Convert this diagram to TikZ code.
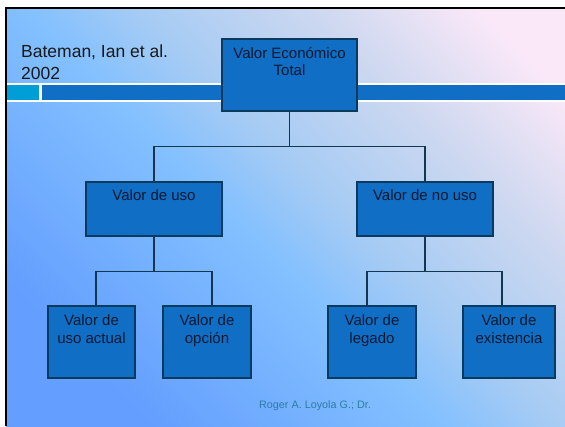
\documentclass[tikz,border=0pt]{standalone}
\usepackage{fontspec}
\setmainfont{Liberation Sans}
\usetikzlibrary{positioning,calc}

\definecolor{boxblue}{RGB}{16,110,196}
\definecolor{boxedge}{RGB}{12,58,92}
\definecolor{linkcol}{RGB}{20,55,80}
\definecolor{boxtext}{RGB}{10,25,50}
\definecolor{bandcyan}{RGB}{0,158,214}
\definecolor{footcol}{RGB}{45,125,160}
\definecolor{bgA}{RGB}{100,158,255}
\definecolor{bgB}{RGB}{130,192,255}
\definecolor{bgC}{RGB}{165,203,244}
\definecolor{bgD}{RGB}{205,216,240}
\definecolor{bgE}{RGB}{250,232,248}
\pgfdeclareverticalshading{bgshade}{100bp}{color(0bp)=(bgA); color(25bp)=(bgA); color(46bp)=(bgB); color(54bp)=(bgC); color(67bp)=(bgD); color(79bp)=(bgE); color(100bp)=(bgE)}

\begin{document}
\begin{tikzpicture}[x=1pt,y=-1pt,
    box/.style={draw=boxedge, line width=1.1pt, fill=boxblue, inner sep=0pt},
    boxtxt/.style={anchor=north, inner sep=0pt, align=center, text=boxtext,
        font=\fontsize{15}{17.5}\selectfont},
    link/.style={draw=linkcol, line width=1.1pt}]
    \useasboundingbox (0,0) rectangle (565,426);
    % Slide background and frame
    \shade[shading=bgshade, shading angle=-45] (6,8) rectangle (565,426);
    \draw[line width=2.4pt] (6,426) -- (6,8) -- (565,8);
    % Title band
    \fill[white] (7,83) rectangle (565,102);
    \fill[bandcyan] (7,85) rectangle (39,100);
    \fill[boxblue] (42,85) rectangle (565,100);
    \node[anchor=north west, inner sep=0pt, align=left, text=black!90,
        font=\fontsize{17.5}{22}\selectfont] (src) at (21,44.5) {Bateman, Ian et al.\\2002};

    % Boxes
    \node[box, minimum width=135pt, minimum height=72pt,
        label={[boxtxt, yshift=-8.5pt]north:Valor Económico\\Total}] (total) at (289.5,75) {};
    \node[box, minimum width=136pt, minimum height=54pt,
        label={[boxtxt, yshift=-8.3pt]north:Valor de uso}] (uso) at (154,209) {};
    \node[box, minimum width=136pt, minimum height=54pt,
        label={[boxtxt, yshift=-8.3pt]north:Valor de no uso}] (nouso) at (425,209) {};
    \node[box, minimum width=87pt, minimum height=72pt,
        label={[boxtxt, yshift=-9.3pt]north:Valor de\\uso actual}] (actual) at (91.5,342) {};
    \node[box, minimum width=88pt, minimum height=72pt,
        label={[boxtxt, yshift=-9.3pt]north:Valor de\\opción}] (opcion) at (207,342) {};
    \node[box, minimum width=88pt, minimum height=72pt,
        label={[boxtxt, yshift=-9.3pt]north:Valor de\\legado}] (legado) at (372,342) {};
    \node[box, minimum width=92pt, minimum height=72pt,
        label={[boxtxt, yshift=-9.3pt]north:Valor de\\existencia}] (exist) at (509,342) {};

    % Connectors
    \draw[link] (total.south) -- ++(0,35) coordinate (j1);
    \draw[link] (uso.north) |- (j1) -| (nouso.north);
    \draw[link] (uso.south) -- ++(0,35) coordinate (j2);
    \draw[link] ([xshift=4.5pt]actual.north) |- (j2) -| ([xshift=5pt]opcion.north);
    \draw[link] (nouso.south) -- ++(0,35) coordinate (j3);
    \draw[link] ([xshift=-5pt]legado.north) |- (j3) -| ([xshift=-7pt]exist.north);

    % Footer
    \node[anchor=base, inner sep=0pt, text=footcol, font=\fontsize{10.8}{13}\selectfont]
        (foot) at (315,408) {Roger A. Loyola G.; Dr.};
\end{tikzpicture}
\end{document}
